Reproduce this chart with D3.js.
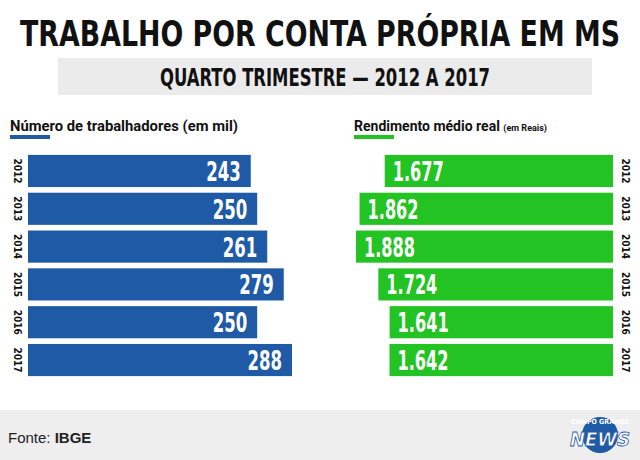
<!DOCTYPE html><html><head><meta charset="utf-8"><script src="https://cdn.jsdelivr.net/npm/d3@7"></script>
<style>body{margin:0;background:#fff}</style></head><body><svg id="c" width="640" height="460"></svg>
<script>
const years=["2012","2013","2014","2015","2016","2017"];
const workers=[243,250,261,279,250,288];
const income=[1677,1862,1888,1724,1641,1642];
const incomeLabels=["1.677","1.862","1.888","1.724","1.641","1.642"];
const svg=d3.select("#c");
const cond="'DejaVu Sans Condensed','Liberation Sans Narrow',Roboto,sans-serif";
const tl=s=>s.replace(/\./g,"").length*11.5+(s.includes(".")?5:0);
svg.append("text").attr("x",320).attr("y",46).attr("text-anchor","middle").attr("font-family",cond).attr("font-weight","bold").attr("font-size",36).attr("textLength",600).attr("lengthAdjust","spacingAndGlyphs").attr("fill","#111").text("TRABALHO POR CONTA PRÓPRIA EM MS");
svg.append("rect").attr("x",58).attr("y",58).attr("width",534).attr("height",37).attr("fill","#ebebeb");
svg.append("text").attr("x",325).attr("y",86).attr("text-anchor","middle").attr("font-family",cond).attr("font-weight","bold").attr("font-size",24).attr("textLength",330).attr("lengthAdjust","spacingAndGlyphs").attr("fill","#111").text("QUARTO TRIMESTRE — 2012 A 2017");
svg.append("text").attr("x",10).attr("y",131).attr("font-family","Roboto,sans-serif").attr("font-weight","bold").attr("font-size",14).attr("textLength",228).attr("lengthAdjust","spacingAndGlyphs").attr("fill","#111").text("Número de trabalhadores (em mil)");
svg.append("rect").attr("x",10).attr("y",135).attr("width",40).attr("height",4).attr("fill","#1f5aa6");
const t2=svg.append("text").attr("x",354).attr("y",131).attr("font-family","Roboto,sans-serif").attr("font-weight","bold").attr("font-size",14).attr("fill","#111");
t2.append("tspan").text("Rendimento médio real ");
t2.append("tspan").attr("font-size",9).text("(em Reais)");
svg.append("rect").attr("x",354).attr("y",135).attr("width",40).attr("height",4).attr("fill","#22c322");
const y=d3.scaleBand().domain(years).range([153,378]).paddingInner(0.15).paddingOuter(0.05);
const xl=d3.scaleLinear().domain([0,288]).range([28,292]);
const xr=d3.scaleLinear().domain([0,1888]).range([613,356]);
const g=svg.append("g");
g.selectAll(".bl").data(years).join("rect").attr("x",xl(0)).attr("y",d=>y(d)).attr("width",(d,i)=>xl(workers[i])-xl(0)).attr("height",y.bandwidth()).attr("fill","#1f5aa6");
g.selectAll(".tl").data(years).join("text").attr("x",(d,i)=>xl(workers[i])-10).attr("y",d=>y(d)+y.bandwidth()/2+10).attr("text-anchor","end").attr("font-family",cond).attr("font-weight","bold").attr("font-size",27).attr("textLength",(d,i)=>tl(String(workers[i]))).attr("lengthAdjust","spacingAndGlyphs").attr("fill","#fff").text((d,i)=>workers[i]);
g.selectAll(".br").data(years).join("rect").attr("x",(d,i)=>xr(income[i])).attr("y",d=>y(d)).attr("width",(d,i)=>xr(0)-xr(income[i])).attr("height",y.bandwidth()).attr("fill","#22c322");
g.selectAll(".tr").data(years).join("text").attr("x",(d,i)=>xr(income[i])+8).attr("y",d=>y(d)+y.bandwidth()/2+10).attr("font-family",cond).attr("font-weight","bold").attr("font-size",27).attr("textLength",(d,i)=>tl(incomeLabels[i])).attr("lengthAdjust","spacingAndGlyphs").attr("fill","#fff").text((d,i)=>incomeLabels[i]);
years.forEach(d=>{const cy=y(d)+y.bandwidth()/2;
 svg.append("text").attr("transform",`translate(14,${cy}) rotate(90)`).attr("text-anchor","middle").attr("font-family",cond).attr("font-weight","bold").attr("font-size",10).attr("fill","#111").text(d);
 svg.append("text").attr("transform",`translate(622,${cy}) rotate(90)`).attr("text-anchor","middle").attr("font-family",cond).attr("font-weight","bold").attr("font-size",10).attr("fill","#111").text(d);});
svg.append("rect").attr("x",0).attr("y",410).attr("width",640).attr("height",50).attr("fill","#eeeeee");
const f=svg.append("text").attr("x",8).attr("y",443).attr("font-family","'Liberation Sans Narrow',Arial,sans-serif").attr("font-size",15).attr("fill","#222");
f.append("tspan").text("Fonte: ");f.append("tspan").attr("font-weight","bold").text("IBGE");
svg.append("circle").attr("cx",600).attr("cy",435).attr("r",18).attr("fill","#1f5aa6");
svg.append("text").attr("x",600).attr("y",424).attr("text-anchor","middle").attr("font-family",cond).attr("font-weight","bold").attr("font-size",7).attr("fill","#fff").text("CAMPO GRANDE");
svg.append("text").attr("x",600).attr("y",446).attr("text-anchor","middle").attr("font-family",cond).attr("font-weight","bold").attr("font-style","italic").attr("font-size",20).attr("fill","#fff").attr("stroke","#1f5aa6").attr("stroke-width",0.8).text("NEWS");
</script></body></html>
